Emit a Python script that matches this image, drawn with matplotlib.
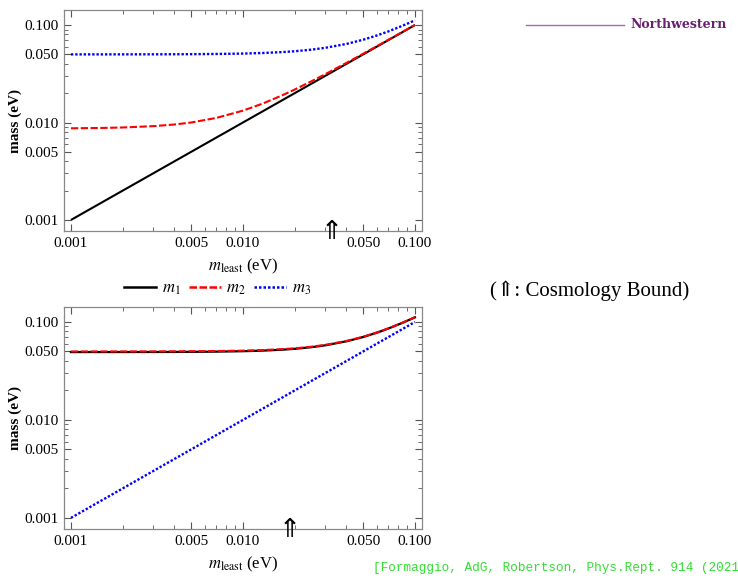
import matplotlib
matplotlib.use("Agg")
import matplotlib.pyplot as plt
from matplotlib.ticker import FixedLocator, FixedFormatter, NullFormatter
from matplotlib.lines import Line2D

plt.rcParams['font.family'] = ['Liberation Serif', 'DejaVu Serif']
plt.rcParams['mathtext.fontset'] = 'stix'

# lightest neutrino mass (eV)
m_least = [0.001, 0.0015, 0.002, 0.003, 0.004, 0.005, 0.007, 0.01, 0.013, 0.017,
           0.02, 0.025, 0.03, 0.04, 0.05, 0.06, 0.07, 0.085, 0.1]

# Normal ordering (top)
no_m1 = [0.001, 0.0015, 0.002, 0.003, 0.004, 0.005, 0.007, 0.01, 0.013, 0.017,
         0.02, 0.025, 0.03, 0.04, 0.05, 0.06, 0.07, 0.085, 0.1]
no_m2 = [0.00872, 0.00879, 0.00889, 0.00917, 0.00954, 0.0100, 0.01114, 0.01323, 0.01562, 0.01908,
         0.02179, 0.02646, 0.03122, 0.04093, 0.05074, 0.06062, 0.07053, 0.08544, 0.10037]
no_m3 = [0.05001, 0.05002, 0.05004, 0.05009, 0.05016, 0.05025, 0.05049, 0.05099, 0.05166, 0.05281,
         0.05385, 0.05590, 0.05831, 0.06403, 0.07071, 0.07810, 0.08602, 0.09862, 0.1118]

# Inverted ordering (bottom)
io_m1 = [0.04930, 0.04932, 0.04934, 0.04939, 0.04946, 0.04955, 0.04979, 0.05030, 0.05098, 0.05214,
         0.05320, 0.05527, 0.05770, 0.06348, 0.07021, 0.07765, 0.08561, 0.09826, 0.1115]
io_m2 = [0.05001, 0.05002, 0.05004, 0.05009, 0.05016, 0.05025, 0.05049, 0.05099, 0.05166, 0.05281,
         0.05385, 0.05590, 0.05831, 0.06403, 0.07071, 0.07810, 0.08602, 0.09862, 0.1118]
io_m3 = [0.001, 0.0015, 0.002, 0.003, 0.004, 0.005, 0.007, 0.01, 0.013, 0.017,
         0.02, 0.025, 0.03, 0.04, 0.05, 0.06, 0.07, 0.085, 0.1]

# cosmology bound markers
bound_no = 0.033
bound_io = 0.0188

major_ticks = [0.001, 0.005, 0.010, 0.050, 0.100]
major_labels = ["0.001", "0.005", "0.010", "0.050", "0.100"]
minor_ticks = [0.002, 0.003, 0.004, 0.006, 0.007, 0.008, 0.009,
               0.02, 0.03, 0.04, 0.06, 0.07, 0.08, 0.09]

fig = plt.figure(figsize=(7.38, 5.8), dpi=100)
ax1 = fig.add_axes([0.0867, 0.6017, 0.485, 0.381])
ax2 = fig.add_axes([0.0867, 0.0879, 0.485, 0.383])

def style(ax):
    ax.set_xscale('log'); ax.set_yscale('log')
    ax.set_xlim(0.000911, 0.1098)
    ax.set_ylim(0.00077, 0.1426)
    for a in (ax.xaxis, ax.yaxis):
        a.set_major_locator(FixedLocator(major_ticks))
        a.set_major_formatter(FixedFormatter(major_labels))
        a.set_minor_locator(FixedLocator(minor_ticks))
        a.set_minor_formatter(NullFormatter())
    ax.tick_params(which='both', direction='in', top=True, right=True,
                   color='#555555', labelsize=11)
    ax.tick_params(which='major', length=5, width=0.8, pad=4)
    ax.tick_params(which='minor', length=3, width=0.6)
    for s in ax.spines.values():
        s.set_color('#888888'); s.set_linewidth(0.9)
    ax.set_ylabel('mass (eV)', fontsize=11, fontweight='bold')
    ax.yaxis.set_label_coords(-0.118, 0.5)
    ax.set_xlabel(r'$m_{\mathrm{least}}$ (eV)', fontsize=12, labelpad=5)

style(ax1); style(ax2)

ax1.plot(m_least, no_m1, color='black', lw=1.5, solid_capstyle='butt')
ax1.plot(m_least, no_m2, color='#ff0000', lw=1.5, ls=(0, (3.5, 1.2)))
ax1.plot(m_least, no_m3, color='#0000ff', lw=1.7, ls=(0, (1, 0.8)))

ax2.plot(m_least, io_m1, color='black', lw=1.6)
ax2.plot(m_least, io_m2, color='#ff0000', lw=1.5, ls=(0, (3.5, 1.2)))
ax2.plot(m_least, io_m3, color='#0000ff', lw=1.7, ls=(0, (1, 0.8)))

for ax, b in ((ax1, bound_no), (ax2, bound_io)):
    ax.text(b, -0.005, '\u21d1', transform=ax.get_xaxis_transform(), ha='center', va='center',
            fontsize=19, family=['DejaVu Sans'], clip_on=False)

handles = [Line2D([], [], color='black', lw=1.8),
           Line2D([], [], color='#ff0000', lw=1.8, ls=(0, (3, 1))),
           Line2D([], [], color='#0000ff', lw=1.8, ls=(0, (1, 0.8)))]
fig.legend(handles, [r'$m_1$', r'$m_2$', r'$m_3$'], loc='center', bbox_to_anchor=(0.295, 0.502),
           ncol=3, frameon=False, fontsize=12, handlelength=1.9, columnspacing=0.5,
           handletextpad=0.35, borderpad=0.2)

# right-side annotations
fig.add_artist(Line2D([526/738, 624/738], [1-25/580, 1-25/580], color='#a868b0', lw=1.0))
fig.text(630/738, 1-24/580, 'Northwestern', color='#6a1f70', fontsize=9, fontweight='bold',
         ha='left', va='center', family=['DejaVu Serif'])
fig.text(490/738, 1-291/580, '(\u21d1: Cosmology Bound)', fontsize=15, ha='left', va='center',
         family=['Liberation Serif', 'DejaVu Serif', 'DejaVu Sans'])
fig.text(373/738, 1-568/580, '[Formaggio, AdG, Robertson, Phys.Rept. 914 (2021', color='#33dd33',
         fontsize=9.2, ha='left', va='center', family=['Liberation Mono'])

fig.savefig('out.png', dpi=100)
